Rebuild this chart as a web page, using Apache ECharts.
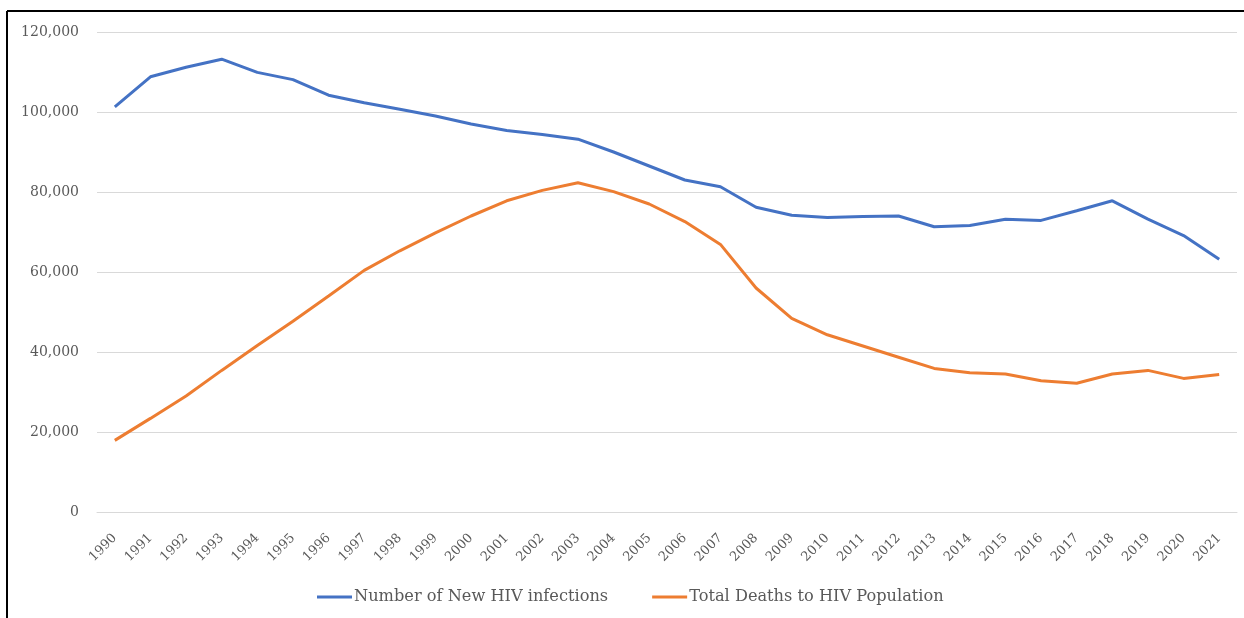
<!DOCTYPE html>
<html>
<head>
<meta charset="utf-8">
<script src="https://cdn.jsdelivr.net/npm/echarts@6/dist/echarts.min.js"></script>
<style>html,body{margin:0;padding:0;background:#fff}#c{width:1244px;height:618px}</style>
</head>
<body>
<div id="c"></div>
<script>
const years = ['1990','1991','1992','1993','1994','1995','1996','1997','1998','1999','2000','2001','2002','2003','2004','2005','2006','2007','2008','2009','2010','2011','2012','2013','2014','2015','2016','2017','2018','2019','2020','2021'];
const newInfections = [101300,108800,111200,113200,109900,108100,104200,102300,100700,99000,97000,95400,94400,93200,90000,86500,83000,81300,76200,74200,73600,73900,74000,71300,71600,73200,72900,75300,77800,73200,69100,63200];
const totalDeaths = [17900,23400,29000,35400,41600,47700,54000,60400,65300,69800,74000,77800,80400,82300,80100,77000,72600,66900,56000,48400,44300,41500,38700,35900,34800,34500,32800,32200,34500,35400,33400,34400];
const seriesNames = ['Number of New HIV infections','Total Deaths to HIV Population'];
const yTicks = [0,20000,40000,60000,80000,100000,120000];

const txt = '#595959';
const font = '"DejaVu Serif","Liberation Serif",serif';
const chart = echarts.init(document.getElementById('c'), null, {renderer:'canvas'});
chart.setOption({
  animation:false,
  backgroundColor:'#fff',
  color:['#4472C4','#ED7D31'],
  grid:{left:97,right:7,top:32,bottom:106,containLabel:false},
  legend:{
    top:584,left:312,itemWidth:35,itemHeight:3,itemGap:44,
    icon:'rect',
    textStyle:{color:txt,fontFamily:font,fontSize:16.2,padding:[0,0,0,-3]},
    data:seriesNames
  },
  xAxis:{
    type:'category',data:years,boundaryGap:true,
    axisLine:{lineStyle:{color:'#d9d9d9',width:1}},
    axisTick:{show:false},
    axisLabel:{rotate:45,color:txt,fontFamily:font,fontSize:13,margin:24,interval:0}
  },
  yAxis:{
    type:'value',min:yTicks[0],max:yTicks[yTicks.length-1],interval:20000,
    axisLine:{show:false},axisTick:{show:false},
    splitLine:{lineStyle:{color:'#d9d9d9',width:1}},
    axisLabel:{color:txt,fontFamily:font,fontSize:14,margin:18,
      formatter:v=>v===0?'0':v.toLocaleString('en-US')}
  },
  series:[
    {name:seriesNames[0],type:'line',data:newInfections,showSymbol:false,symbol:'none',lineStyle:{width:3}},
    {name:seriesNames[1],type:'line',data:totalDeaths,showSymbol:false,symbol:'none',lineStyle:{width:3}}
  ],
  graphic:[
    {type:'line',shape:{x1:7,y1:11,x2:1244,y2:11},style:{stroke:'#000',lineWidth:2}},
    {type:'line',shape:{x1:7,y1:11,x2:7,y2:618},style:{stroke:'#000',lineWidth:2}}
  ]
});
</script>
</body>
</html>
